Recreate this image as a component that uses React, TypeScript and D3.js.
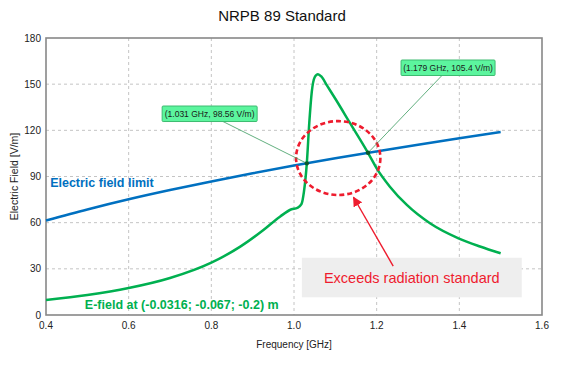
import * as d3 from "d3";

const WIDTH = 566;
const HEIGHT = 388;
const MARGIN = { top: 38, right: 24, bottom: 73, left: 46 };

// NRPB 89 electric field limit (V/m)
const limitFreq = [0.4, 0.5, 0.6, 0.7, 0.8, 0.9, 1.0, 1.1, 1.2, 1.3, 1.4, 1.5];
const limitValue = [61.4, 68.6, 75.2, 81.2, 86.8, 92.1, 97.1, 101.8, 106.3, 110.7, 114.9, 118.9];

// E-field at (-0.0316; -0.067; -0.2) m
const fieldFreq = [
  0.4, 0.5, 0.6, 0.7, 0.8, 0.87, 0.926, 0.966, 0.994, 1.008, 1.018, 1.024,
  1.031, 1.037, 1.043, 1.05, 1.058, 1.066, 1.08, 1.1, 1.136, 1.179, 1.2,
  1.232, 1.273, 1.329, 1.398, 1.45, 1.5,
];
const fieldValue = [
  9.8, 13, 17.5, 24, 34, 44.4, 55.2, 63.9, 68.7, 69.6, 72, 80,
  98.56, 125, 145, 154.5, 156.5, 155, 149, 140.5, 124.5, 105.4, 95.3,
  83.4, 71.5, 59.6, 49.8, 44.5, 40.1,
];

// marked crossings
const crossFreq = [1.031, 1.179];
const crossValue = [98.56, 105.4];
const crossLabels = ["(1.031 GHz, 98.56 V/m)", "(1.179 GHz, 105.4 V/m)"];

const xTicks = [0.4, 0.6, 0.8, 1.0, 1.2, 1.4, 1.6];
const yTicks = [0, 30, 60, 90, 120, 150, 180];

const FONT = "'Liberation Sans', Arial, sans-serif";
const BLUE = "#0070c0";
const GREEN = "#00b050";
const RED = "#ee1c2e";

const App = () => {
  const boundsWidth = WIDTH - MARGIN.left - MARGIN.right;
  const boundsHeight = HEIGHT - MARGIN.top - MARGIN.bottom;

  const xScale = d3.scaleLinear().domain([0.4, 1.6]).range([MARGIN.left, MARGIN.left + boundsWidth]);
  const yScale = d3.scaleLinear().domain([0, 180]).range([MARGIN.top + boundsHeight, MARGIN.top]);

  const line = d3
    .line<[number, number]>()
    .x((d) => xScale(d[0]))
    .y((d) => yScale(d[1]))
    .curve(d3.curveMonotoneX);

  const limitPath = line(limitFreq.map((f, i) => [f, limitValue[i]])) || "";
  const fieldPath = line(fieldFreq.map((f, i) => [f, fieldValue[i]])) || "";

  // callout boxes (left/top corner in data units)
  const boxes = [
    { f: 0.681, v: 135.8, w: 95, anchor: 0.63 },
    { f: 1.259, v: 165.7, w: 94, anchor: 0.44 },
  ];

  // red circle + arrow + note
  const cx = xScale(1.107);
  const cy = yScale(102);
  const rx = xScale(1.107 + 0.102) - cx;
  const ry = cy - yScale(102 + 24);
  const arrowFrom = [xScale(1.24), yScale(31.8)];
  const arrowTo = [xScale(1.144), yScale(76.5)];

  const left = MARGIN.left;
  const right = MARGIN.left + boundsWidth;
  const top = MARGIN.top;
  const bottom = MARGIN.top + boundsHeight;

  return (
    <svg
      width={WIDTH}
      height={HEIGHT}
      style={{ position: "absolute", left: 0, top: 0, background: "#fff" }}
      fontFamily={FONT}
    >
      <defs>
        <marker id="arrowHead" viewBox="0 0 10 10" refX="9" refY="5" markerWidth="7" markerHeight="7" orient="auto">
          <path d="M0,0 L10,5 L0,10 z" fill={RED} />
        </marker>
      </defs>

      <text x={282} y={20.5} textAnchor="middle" fontSize={15} fill="#111">
        NRPB 89 Standard
      </text>

      {/* grid */}
      {xTicks.slice(1, -1).map((t) => (
        <line key={"gx" + t} x1={xScale(t)} x2={xScale(t)} y1={top} y2={bottom} stroke="#c4c4c4" strokeDasharray="3,3" />
      ))}
      {yTicks.slice(1, -1).map((t) => (
        <line key={"gy" + t} x1={left} x2={right} y1={yScale(t)} y2={yScale(t)} stroke="#c4c4c4" strokeDasharray="3,3" />
      ))}

      {/* note box */}
      <rect x={xScale(1.019)} y={yScale(37.2)} width={xScale(1.551) - xScale(1.019)} height={yScale(11.5) - yScale(37.2)} fill="#eeeeee" />
      <text x={xScale(1.285)} y={yScale(20.5)} textAnchor="middle" fontSize={14.5} fill={RED}>
        Exceeds radiation standard
      </text>

      {/* frame */}
      <rect x={left} y={top} width={boundsWidth} height={boundsHeight} fill="none" stroke="#888" strokeWidth={1.6} />

      {xTicks.map((t) => (
        <text key={"tx" + t} x={xScale(t)} y={bottom + 14} textAnchor="middle" fontSize={10} fill="#222">
          {t.toFixed(1)}
        </text>
      ))}
      {yTicks.map((t) => (
        <text key={"ty" + t} x={left - 5} y={yScale(t) + 3.5} textAnchor="end" fontSize={10} fill="#222">
          {t}
        </text>
      ))}
      <text x={(left + right) / 2} y={348} textAnchor="middle" fontSize={10} fill="#222">
        Frequency [GHz]
      </text>
      <text
        transform={`translate(17.5, ${(top + bottom) / 2}) rotate(-90)`}
        textAnchor="middle"
        fontSize={10.5}
        fill="#222"
      >
        Electric Field [V/m]
      </text>

      {/* series */}
      <path d={limitPath} fill="none" stroke={BLUE} strokeWidth={2.5} />
      <path d={fieldPath} fill="none" stroke={GREEN} strokeWidth={2.5} />

      <text x={xScale(0.41)} y={yScale(83.3)} fontSize={12.5} fontWeight="bold" fill={BLUE}>
        Electric field limit
      </text>
      <text x={xScale(0.494)} y={yScale(3.9)} fontSize={12.5} fontWeight="bold" fill={GREEN}>
        E-field at (-0.0316; -0.067; -0.2) m
      </text>

      {/* red highlight */}
      <ellipse cx={cx} cy={cy} rx={rx} ry={ry} fill="none" stroke={RED} strokeWidth={2.6} strokeDasharray="5,3" />
      <line
        x1={arrowFrom[0]}
        y1={arrowFrom[1]}
        x2={arrowTo[0]}
        y2={arrowTo[1]}
        stroke={RED}
        strokeWidth={1.4}
        markerEnd="url(#arrowHead)"
      />

      {/* callouts */}
      {crossFreq.map((f, i) => {
        const b = boxes[i];
        const bx = xScale(b.f);
        const by = yScale(b.v);
        return (
          <g key={"c" + i}>
            <line
              x1={bx + b.w * b.anchor}
              y1={by + 15}
              x2={xScale(f)}
              y2={yScale(crossValue[i])}
              stroke="#3a9a5e"
              strokeWidth={0.8}
            />
            <circle cx={xScale(f)} cy={yScale(crossValue[i])} r={2.2} fill="#0b5a2a" />
            <rect x={bx} y={by} width={b.w} height={15.5} fill="#5cf59e" stroke="#3dbb70" strokeWidth={1} rx={1} />
            <text x={bx + b.w / 2} y={by + 11} textAnchor="middle" fontSize={8.5} fill="#1a1a1a">
              {crossLabels[i]}
            </text>
          </g>
        );
      })}
    </svg>
  );
};

export default App;
